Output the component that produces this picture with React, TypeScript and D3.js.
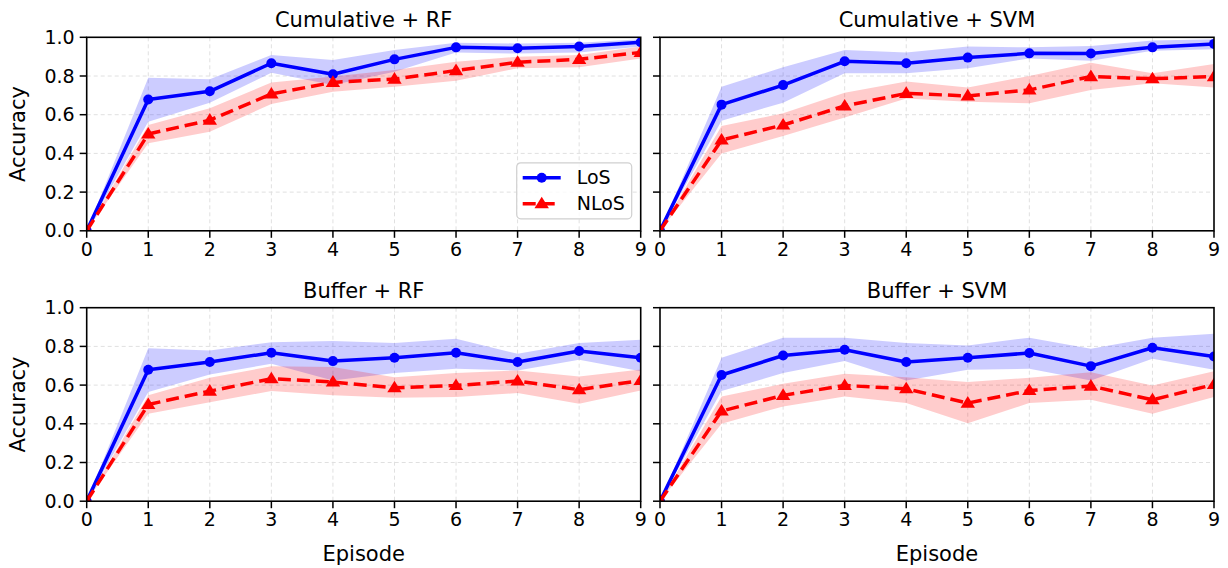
import React from "react";
import * as d3 from "d3";

const episodes = [0, 1, 2, 3, 4, 5, 6, 7, 8, 9];
const yTicks = [0, 0.2, 0.4, 0.6, 0.8, 1.0];
const panelTitles = ["Cumulative + RF", "Cumulative + SVM", "Buffer + RF", "Buffer + SVM"];
const seriesNames = ["LoS", "NLoS"];

// Cumulative + RF
const cumRfLos = [0, 0.679, 0.721, 0.866, 0.809, 0.886, 0.948, 0.943, 0.952, 0.974];
const cumRfLosLo = [0, 0.564, 0.662, 0.817, 0.753, 0.822, 0.921, 0.916, 0.921, 0.952];
const cumRfLosHi = [0, 0.791, 0.783, 0.909, 0.883, 0.934, 0.972, 0.968, 0.972, 0.99];
const cumRfNlos = [0, 0.5, 0.572, 0.707, 0.767, 0.784, 0.828, 0.871, 0.886, 0.922];
const cumRfNlosLo = [0, 0.452, 0.512, 0.655, 0.719, 0.745, 0.776, 0.84, 0.845, 0.891];
const cumRfNlosHi = [0, 0.547, 0.633, 0.766, 0.797, 0.831, 0.874, 0.9, 0.909, 0.952];

// Cumulative + SVM
const cumSvmLos = [0, 0.652, 0.753, 0.876, 0.866, 0.895, 0.917, 0.916, 0.948, 0.966];
const cumSvmLosLo = [0, 0.569, 0.662, 0.814, 0.814, 0.84, 0.891, 0.879, 0.931, 0.938];
const cumSvmLosHi = [0, 0.745, 0.845, 0.934, 0.921, 0.952, 0.948, 0.955, 0.983, 0.99];
const cumSvmNlos = [0, 0.469, 0.547, 0.645, 0.71, 0.697, 0.728, 0.797, 0.786, 0.797];
const cumSvmNlosLo = [0, 0.4, 0.49, 0.586, 0.684, 0.667, 0.659, 0.728, 0.762, 0.741];
const cumSvmNlosHi = [0, 0.541, 0.607, 0.714, 0.771, 0.741, 0.8, 0.869, 0.814, 0.862];

// Buffer + RF
const bufRfLos = [0, 0.679, 0.719, 0.767, 0.724, 0.741, 0.767, 0.719, 0.776, 0.741];
const bufRfLosLo = [0, 0.564, 0.655, 0.71, 0.624, 0.662, 0.684, 0.676, 0.731, 0.672];
const bufRfLosHi = [0, 0.791, 0.779, 0.822, 0.828, 0.817, 0.84, 0.762, 0.817, 0.834];
const bufRfNlos = [0, 0.5, 0.569, 0.633, 0.616, 0.586, 0.598, 0.621, 0.576, 0.624];
const bufRfNlosLo = [0, 0.452, 0.512, 0.569, 0.547, 0.534, 0.538, 0.559, 0.503, 0.572];
const bufRfNlosHi = [0, 0.547, 0.638, 0.697, 0.693, 0.641, 0.662, 0.676, 0.645, 0.681];

// Buffer + SVM
const bufSvmLos = [0, 0.652, 0.753, 0.783, 0.719, 0.741, 0.766, 0.698, 0.793, 0.748];
const bufSvmLosLo = [0, 0.569, 0.662, 0.724, 0.624, 0.679, 0.684, 0.624, 0.736, 0.679];
const bufSvmLosHi = [0, 0.741, 0.845, 0.845, 0.817, 0.805, 0.845, 0.788, 0.845, 0.866];
const bufSvmNlos = [0, 0.466, 0.547, 0.598, 0.581, 0.507, 0.572, 0.595, 0.524, 0.603];
const bufSvmNlosLo = [0, 0.4, 0.49, 0.541, 0.507, 0.403, 0.507, 0.524, 0.452, 0.538];
const bufSvmNlosHi = [0, 0.541, 0.607, 0.659, 0.641, 0.616, 0.638, 0.667, 0.598, 0.672];

type Series = { mean: number[]; lo: number[]; hi: number[] };
type Panel = { title: string; los: Series; nlos: Series };

const panels: Panel[] = [
  { title: panelTitles[0], los: { mean: cumRfLos, lo: cumRfLosLo, hi: cumRfLosHi }, nlos: { mean: cumRfNlos, lo: cumRfNlosLo, hi: cumRfNlosHi } },
  { title: panelTitles[1], los: { mean: cumSvmLos, lo: cumSvmLosLo, hi: cumSvmLosHi }, nlos: { mean: cumSvmNlos, lo: cumSvmNlosLo, hi: cumSvmNlosHi } },
  { title: panelTitles[2], los: { mean: bufRfLos, lo: bufRfLosLo, hi: bufRfLosHi }, nlos: { mean: bufRfNlos, lo: bufRfNlosLo, hi: bufRfNlosHi } },
  { title: panelTitles[3], los: { mean: bufSvmLos, lo: bufSvmLosLo, hi: bufSvmLosHi }, nlos: { mean: bufSvmNlos, lo: bufSvmNlosLo, hi: bufSvmNlosHi } },
];

const W = 1228;
const H = 568;
const FONT = "DejaVu Sans, sans-serif";
const colLeft = [86.7, 660];
const rowTop = [37.3, 307.7];
const PW = 554;
const PH = 193.5;
const BLUE = "#0000ff";
const RED = "#ff0000";
const TICK_FS = 19;
const LABEL_FS = 21;

// upward-pointing triangle marker centred on its data point
const triPath = (s: number) => {
  const h = s * 0.95;
  return `M0,${-h * 0.62}L${s * 0.6},${h * 0.4}L${-s * 0.6},${h * 0.4}Z`;
};

function PanelView({ p, idx }: { p: Panel; idx: number }) {
  const col = idx % 2;
  const row = Math.floor(idx / 2);
  const x0 = colLeft[col];
  const y0 = rowTop[row];
  const x = d3.scaleLinear().domain([0, 9]).range([0, PW]);
  const y = d3.scaleLinear().domain([0, 1]).range([PH, 0]);
  const band = (s: Series) =>
    d3
      .area<number>()
      .x((_, i) => x(episodes[i]))
      .y0((_, i) => y(s.lo[i]))
      .y1((_, i) => y(s.hi[i]))(s.mean) || "";
  const line = (s: Series) =>
    d3
      .line<number>()
      .x((_, i) => x(episodes[i]))
      .y((d) => y(d))(s.mean) || "";
  const clipId = `clip-${idx}`;
  return (
    <g transform={`translate(${x0},${y0})`}>
      <defs>
        <clipPath id={clipId}>
          <rect x={0} y={0} width={PW} height={PH} />
        </clipPath>
      </defs>
      {/* grid */}
      {episodes.slice(1, -1).map((e) => (
        <line key={`gx${e}`} x1={x(e)} x2={x(e)} y1={0} y2={PH} stroke="#e0e0e0" strokeWidth={1} strokeDasharray="4,3" />
      ))}
      {yTicks.slice(1, -1).map((t) => (
        <line key={`gy${t}`} x1={0} x2={PW} y1={y(t)} y2={y(t)} stroke="#e0e0e0" strokeWidth={1} strokeDasharray="4,3" />
      ))}
      <g clipPath={`url(#${clipId})`}>
        <path d={band(p.los)} fill={BLUE} fillOpacity={0.2} />
        <path d={band(p.nlos)} fill={RED} fillOpacity={0.2} />
        <path d={line(p.los)} fill="none" stroke={BLUE} strokeWidth={3.5} strokeLinejoin="round" />
        {p.los.mean.map((v, i) => (
          <circle key={`c${i}`} cx={x(episodes[i])} cy={y(v)} r={5} fill={BLUE} />
        ))}
        <path d={line(p.nlos)} fill="none" stroke={RED} strokeWidth={3.5} strokeDasharray="13,6" strokeLinejoin="round" />
        {p.nlos.mean.map((v, i) => (
          <path key={`t${i}`} d={triPath(12)} transform={`translate(${x(episodes[i])},${y(v)})`} fill={RED} />
        ))}
      </g>
      {/* spines */}
      <rect x={0} y={0} width={PW} height={PH} fill="none" stroke="#000" strokeWidth={1.6} />
      {/* x ticks */}
      {episodes.map((e) => (
        <g key={`xt${e}`} transform={`translate(${x(e)},${PH})`}>
          <line y1={0} y2={7} stroke="#000" strokeWidth={1.5} />
          <text y={25} textAnchor="middle" fontFamily={FONT} fontSize={TICK_FS} fill="#000">
            {e}
          </text>
        </g>
      ))}
      {/* y ticks */}
      {yTicks.map((t) => (
        <g key={`yt${t}`} transform={`translate(0,${y(t)})`}>
          <line x1={-7} x2={0} stroke="#000" strokeWidth={1.5} />
          {col === 0 && (
            <text x={-12} dy="0.35em" textAnchor="end" fontFamily={FONT} fontSize={TICK_FS} fill="#000">
              {t.toFixed(1)}
            </text>
          )}
        </g>
      ))}
      <text x={PW / 2} y={-10} textAnchor="middle" fontFamily={FONT} fontSize={LABEL_FS} fill="#000">
        {p.title}
      </text>
      {col === 0 && (
        <text
          transform={`translate(${-62},${PH / 2}) rotate(-90)`}
          textAnchor="middle"
          fontFamily={FONT}
          fontSize={LABEL_FS}
          fill="#000"
        >
          Accuracy
        </text>
      )}
      {row === 1 && (
        <text x={PW / 2} y={PH + 60} textAnchor="middle" fontFamily={FONT} fontSize={LABEL_FS} fill="#000">
          Episode
        </text>
      )}
      {idx === 0 && (
        <g transform={`translate(${PW - 124},${PH - 68})`}>
          <rect x={0} y={0} width={115} height={56} rx={4} fill="#fff" fillOpacity={0.8} stroke="#d0d0d0" strokeWidth={1.2} />
          <line x1={6} x2={44} y1={15} y2={15} stroke={BLUE} strokeWidth={3.5} />
          <circle cx={25} cy={15} r={5} fill={BLUE} />
          <text x={60} y={15} dy="0.35em" fontFamily={FONT} fontSize={TICK_FS} fill="#000">
            {seriesNames[0]}
          </text>
          <line x1={6} x2={44} y1={41} y2={41} stroke={RED} strokeWidth={3.5} strokeDasharray="13,6" />
          <path d={triPath(12)} transform={`translate(25,41)`} fill={RED} />
          <text x={60} y={41} dy="0.35em" fontFamily={FONT} fontSize={TICK_FS} fill="#000">
            {seriesNames[1]}
          </text>
        </g>
      )}
    </g>
  );
}

export default function App() {
  return (
    <svg width={W} height={H} viewBox={`0 0 ${W} ${H}`} style={{ display: "block", position: "absolute", left: 0, top: 0, background: "#fff" }}>
      <rect width={W} height={H} fill="#fff" />
      {panels.map((p, i) => (
        <PanelView key={i} p={p} idx={i} />
      ))}
    </svg>
  );
}
